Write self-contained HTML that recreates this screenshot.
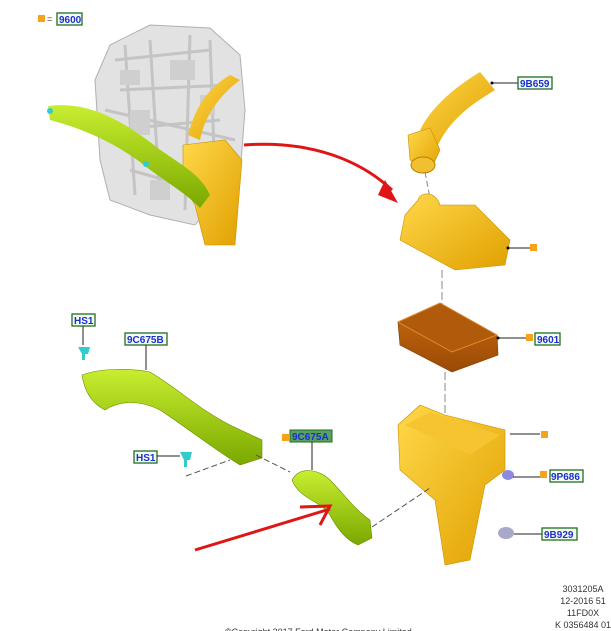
<!DOCTYPE html>
<html><head><style>
html,body{margin:0;padding:0;background:#fff;width:611px;height:631px;overflow:hidden}
svg{display:block}
.lb{fill:#f4fbf2;stroke:#1f6e1f;stroke-width:1.3}
.lt{font-family:"Liberation Sans",sans-serif;font-size:10px;font-weight:bold;fill:#1a2fd0}
.ft{font-family:"Liberation Sans",sans-serif;font-size:9px;fill:#333}
</style></head><body>
<svg width="611" height="631" viewBox="0 0 611 631">
<defs>
<linearGradient id="y" x1="0" y1="0" x2="1" y2="1"><stop offset="0" stop-color="#ffd84a"/><stop offset="1" stop-color="#e0a000"/></linearGradient>
<linearGradient id="g" x1="0" y1="0" x2="0" y2="1"><stop offset="0" stop-color="#c8ee30"/><stop offset="1" stop-color="#7aa800"/></linearGradient>
<linearGradient id="o" x1="0" y1="0" x2="0" y2="1"><stop offset="0" stop-color="#c86a10"/><stop offset="1" stop-color="#9a4a05"/></linearGradient>
</defs>
<rect x="38" y="15" width="7" height="7" fill="#f7a21b"/>
<text x="47" y="22" class="ft" font-size="10">=</text>
<rect x="57" y="13" width="25" height="12" class="lb"/><text x="59" y="23" class="lt">9600</text>

<!-- engine -->
<path d="M95,80 L110,45 L150,25 L210,28 L240,55 L245,110 L240,175 L215,200 L195,225 L150,215 L110,200 L100,160 Z" fill="#e2e2e2" stroke="#b0b0b0"/>
<path d="M115,60 L210,50 M120,90 L230,85 M110,130 L220,120 M130,170 L200,190 M150,40 L160,200 M190,35 L185,210 M105,110 L235,140 M125,45 L135,195 M210,40 L215,180" stroke="#c4c4c4" stroke-width="3" fill="none"/>
<path d="M120,70 h20 v15 h-20z M170,60 h25 v20 h-25z M130,110 h20 v25 h-20z M200,95 h15 v20 h-15z M150,180 h20 v20 h-20z" fill="#cfcfcf"/>
<path d="M188,135 C195,110 205,90 230,75 L240,80 C220,95 205,115 200,140 Z" fill="url(#y)"/>
<path d="M183,145 L225,140 L242,160 L235,245 L205,245 L195,205 L183,185 Z" fill="url(#y)" stroke="#c99000" stroke-width="0.6"/>
<path d="M48,106 C80,102 110,112 150,142 C175,162 200,172 210,195 L200,208 C185,192 165,182 140,162 C110,140 80,128 50,120 Z" fill="url(#g)"/>
<circle cx="50" cy="111" r="3" fill="#3cc"/><circle cx="146" cy="164" r="3" fill="#3cc"/>

<path d="M244,145 C310,140 360,160 392,190" stroke="#e01515" stroke-width="3" fill="none"/>
<polygon points="385,180 398,203 378,195" fill="#e01515"/>

<path d="M420,130 C430,110 450,90 480,72 L495,90 C470,105 450,120 438,145 Z" fill="url(#y)"/>
<path d="M408,135 L430,128 L440,150 L430,172 L410,160 Z" fill="url(#y)" stroke="#c99000" stroke-width="0.6"/>
<ellipse cx="423" cy="165" rx="12" ry="8" fill="#f0c030" stroke="#b58000"/>
<line x1="492" y1="83" x2="518" y2="83" stroke="#222"/><circle cx="492" cy="83" r="1.5"/>
<rect x="518" y="77" width="34" height="12" class="lb"/><text x="520" y="87" class="lt">9B659</text>
<line x1="425" y1="172" x2="430" y2="198" stroke="#888" stroke-dasharray="6,3"/>

<path d="M418,200 C420,192 435,190 440,205 L475,205 L510,240 L505,265 L455,270 L400,240 L405,215 Z" fill="url(#y)" stroke="#c99000" stroke-width="0.6"/>
<line x1="508" y1="248" x2="530" y2="248" stroke="#222"/><circle cx="508" cy="248" r="1.5"/>
<rect x="530" y="244" width="7" height="7" fill="#f7a21b"/>
<line x1="442" y1="270" x2="442" y2="305" stroke="#888" stroke-dasharray="8,3"/>

<path d="M398,322 L440,303 L497,335 L498,355 L452,372 L400,345 Z" fill="url(#o)" stroke="#8a4000" stroke-width="0.7"/>
<path d="M398,322 L440,303 L497,335 L452,352 Z" fill="#b05a0c" stroke="#e08a30"/>
<line x1="498" y1="338" x2="526" y2="338" stroke="#222"/><circle cx="498" cy="338" r="1.5"/>
<rect x="526" y="334" width="7" height="7" fill="#f7a21b"/>
<rect x="535" y="333" width="25" height="12" class="lb"/><text x="537" y="343" class="lt">9601</text>
<line x1="445" y1="372" x2="445" y2="440" stroke="#888" stroke-dasharray="8,3"/>

<path d="M398,425 L420,405 L445,415 L505,430 L505,470 L485,485 L470,560 L445,565 L435,500 L400,470 Z" fill="url(#y)" stroke="#c99000" stroke-width="0.6"/>
<path d="M405,425 L430,412 L500,435 L470,455 Z" fill="#f5c430"/>
<line x1="510" y1="434" x2="540" y2="434" stroke="#222"/>
<rect x="541" y="431" width="7" height="7" fill="#f7a21b"/>
<ellipse cx="508" cy="475" rx="6" ry="5" fill="#8a8ae0"/>
<line x1="513" y1="477" x2="540" y2="477" stroke="#222"/>
<rect x="540" y="471" width="7" height="7" fill="#f7a21b"/>
<rect x="550" y="470" width="33" height="12" class="lb"/><text x="551" y="480" class="lt">9P686</text>
<ellipse cx="506" cy="533" rx="8" ry="6" fill="#a8a8c8"/>
<line x1="514" y1="534" x2="542" y2="534" stroke="#222"/>
<rect x="542" y="528" width="35" height="12" class="lb"/><text x="544" y="538" class="lt">9B929</text>

<path d="M82,375 C100,368 130,368 150,372 C180,390 200,410 230,425 L262,440 L262,458 L240,465 C215,450 190,430 160,410 C140,400 120,400 105,410 C95,405 85,395 82,375 Z" fill="url(#g)" stroke="#6a9000" stroke-width="0.6"/>
<line x1="83" y1="324" x2="83" y2="345" stroke="#222"/>
<rect x="72" y="314" width="23" height="12" class="lb"/><text x="74" y="324" class="lt">HS1</text>
<path d="M78,347 L90,347 L88,354 L85,354 L85,360 L82,360 L82,354 Z" fill="#3cc"/>
<rect x="125" y="333" width="42" height="12" class="lb"/><text x="127" y="343" class="lt">9C675B</text>
<line x1="146" y1="345" x2="146" y2="370" stroke="#222"/>
<rect x="134" y="451" width="23" height="12" class="lb"/><text x="136" y="461" class="lt">HS1</text>
<line x1="157" y1="456" x2="180" y2="456" stroke="#222"/>
<path d="M180,452 L192,452 L190,460 L187,460 L187,467 L184,467 L184,460 Z" fill="#3cc"/>
<path d="M186,476 L230,460 M256,455 L290,472" stroke="#555" stroke-dasharray="6,3" fill="none"/>

<rect x="282" y="434" width="7" height="7" fill="#f7a21b"/>
<rect x="290" y="430" width="42" height="12" fill="#5aa060" stroke="#1f6e1f"/><text x="292" y="440" class="lt" fill="#123">9C675A</text>
<line x1="312" y1="442" x2="312" y2="470" stroke="#222"/>
<path d="M292,480 C300,465 320,470 330,480 C345,495 355,510 370,520 L372,538 L358,545 C345,540 335,525 330,515 C320,500 300,500 292,480 Z" fill="url(#g)" stroke="#6a9000" stroke-width="0.6"/>
<line x1="372" y1="527" x2="430" y2="488" stroke="#555" stroke-dasharray="6,3"/>

<line x1="195" y1="550" x2="330" y2="509" stroke="#e01515" stroke-width="3"/>
<path d="M300,507 L330,506 L320,525" stroke="#e01515" stroke-width="3" fill="none"/>

<text x="583" y="592" class="ft" text-anchor="middle">3031205A</text>
<text x="583" y="604" class="ft" text-anchor="middle">12-2016 51</text>
<text x="583" y="616" class="ft" text-anchor="middle">11FD0X</text>
<text x="583" y="628" class="ft" text-anchor="middle">K 0356484 01</text>
<text x="225" y="635" class="ft">©Copyright  2017  Ford Motor Company Limited</text>
</svg>
</body></html>
